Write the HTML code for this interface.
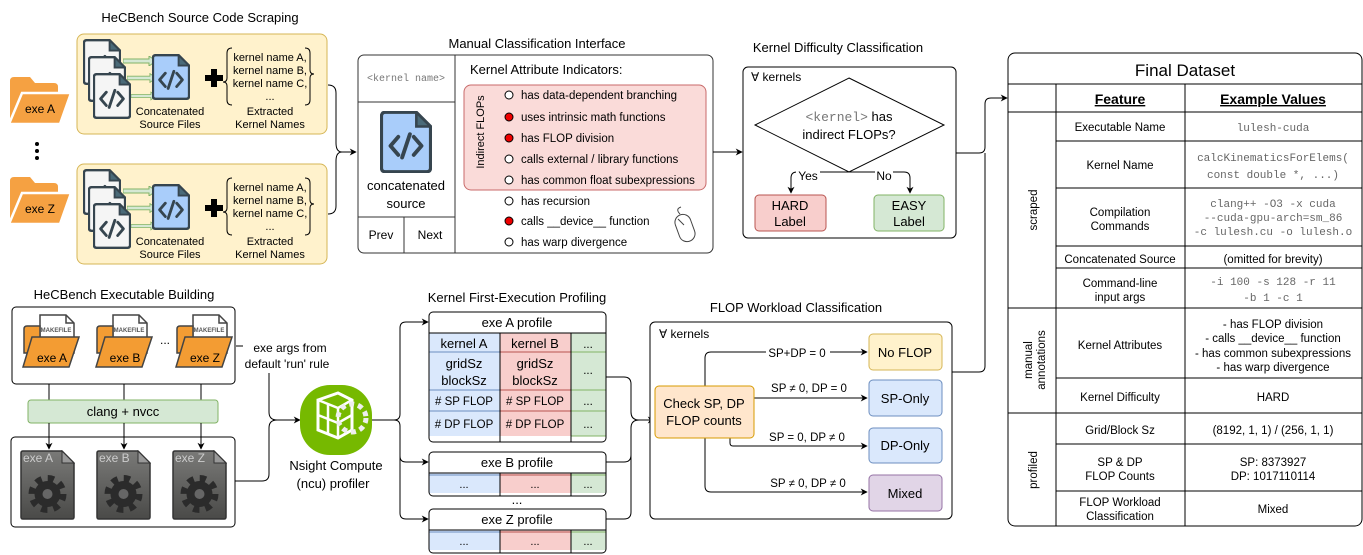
<!DOCTYPE html>
<html><head><meta charset="utf-8"><style>
html,body{margin:0;padding:0;background:#fff}
svg{display:block;font-family:"Liberation Sans",sans-serif}
.m{font-family:"Liberation Mono",monospace}
</style></head><body>
<svg width="1363" height="555" viewBox="0 0 1363 555" xmlns="http://www.w3.org/2000/svg">
<defs>
<marker id="ar" viewBox="0 0 10 10" refX="9" refY="5" markerWidth="7" markerHeight="7" orient="auto"><path d="M0,0 L10,5 L0,10 L3,5 Z" fill="#000"/></marker>
<linearGradient id="gg" x1="0" y1="0" x2="0" y2="1"><stop offset="0" stop-color="#7a7a78"/><stop offset="1" stop-color="#4a4a48"/></linearGradient>
<symbol id="docg" viewBox="0 0 40 48">
<path d="M4,1 H28 L39,12 V44 Q39,47 36,47 H4 Q1,47 1,44 V4 Q1,1 4,1 Z" fill="#f5f5f5" stroke="#36454f" stroke-width="2.5"/>
<path d="M28,1 V12 H39 Z" fill="#4a6a78" stroke="#36454f" stroke-width="2"/>
<path d="M14,20 L8,27 L14,34 M26,20 L32,27 L26,34 M23,18 L17,36" fill="none" stroke="#36454f" stroke-width="3" stroke-linecap="round" stroke-linejoin="round"/>
</symbol>
<symbol id="docb" viewBox="0 0 40 48">
<path d="M4,1 H28 L39,12 V44 Q39,47 36,47 H4 Q1,47 1,44 V4 Q1,1 4,1 Z" fill="#a9cdfa" stroke="#36454f" stroke-width="2.5"/>
<path d="M28,1 V12 H39 Z" fill="#4a6a78" stroke="#36454f" stroke-width="2"/>
<path d="M14,20 L8,27 L14,34 M26,20 L32,27 L26,34 M23,18 L17,36" fill="none" stroke="#36454f" stroke-width="3" stroke-linecap="round" stroke-linejoin="round"/>
</symbol>
<symbol id="garr" viewBox="0 0 34 10"><path d="M0,3 H26 V0 L33,5 L26,10 V7 H0 Z" fill="#d5e8d4" stroke="#82b366" stroke-width="1"/></symbol>
<symbol id="fold" viewBox="0 0 64 50">
<path d="M2,6 Q2,2 6,2 H22 L27,8 H46 Q50,8 50,12 V48 H2 Z" fill="#f5a142"/>
<path d="M14,18 H63 L52,49 H1 Z" fill="#f5a142" stroke="#fff" stroke-width="2.5"/>
</symbol>
<symbol id="mk" viewBox="0 0 58 56">
<path d="M18,2 H44 L52,10 V40 H18 Z" fill="#fff" stroke="#444" stroke-width="1.5"/>
<path d="M44,2 V10 H52" fill="none" stroke="#444" stroke-width="1.5"/>
<path d="M2,16 Q2,13 5,13 H18 V40 H2 Z" fill="#f39c33" stroke="#444" stroke-width="1.5"/>
<path d="M10,24 H57 L47,54 H1 Z" fill="#f39c33" stroke="#444" stroke-width="1.5"/>
<text x="34" y="19" font-size="6" font-weight="bold" text-anchor="middle" fill="#555" font-family="Liberation Sans">MAKEFILE</text>
</symbol>
<symbol id="gear" viewBox="0 0 55 70">
<path d="M3,1 H42 L54,13 V67 Q54,69 52,69 H3 Q1,69 1,67 V3 Q1,1 3,1 Z" fill="url(#gg)" stroke="#333" stroke-width="1.5"/>
<path d="M42,1 V13 H54 Z" fill="#999" stroke="#333"/>
<circle cx="27.5" cy="44" r="15" fill="none" stroke="#2b2b2b" stroke-width="8" stroke-dasharray="6 5.8"/>
<circle cx="27.5" cy="44" r="13" fill="#2b2b2b"/>
<circle cx="27.5" cy="44" r="5" fill="#666"/>
</symbol>
</defs>

<!-- ===== Source Code Scraping ===== -->
<text x="200" y="22" font-size="13" text-anchor="middle">HeCBench Source Code Scraping</text>
<g id="scr">
<rect x="77" y="34" width="250" height="100" rx="7" fill="#fff2cc" stroke="#d6b656"/>
<use href="#docg" x="83" y="39" width="38" height="46"/>
<use href="#docg" x="88" y="56" width="38" height="46"/>
<use href="#docg" x="93" y="73" width="38" height="46"/>
<use href="#garr" x="123" y="56" width="34" height="10"/>
<use href="#garr" x="127" y="73" width="30" height="10"/>
<use href="#garr" x="131" y="91" width="26" height="10"/>
<use href="#docb" x="152" y="54" width="38" height="46"/>
<path d="M205,75 h6 v-6 h6 v6 h6 v6 h-6 v6 h-6 v-6 h-6 Z" fill="#000"/>
<path d="M232,48 q-5,0 -5,5 v25 q0,4 -4,4 q4,0 4,4 v14 q0,5 5,5" fill="none" stroke="#000"/>
<path d="M305,48 q5,0 5,5 v17 q0,4 4,4 q-4,0 -4,4 v22 q0,5 -5,5" fill="none" stroke="#000"/>
<g font-size="11" text-anchor="middle"><text x="270" y="61">kernel name A,</text><text x="270" y="74">kernel name B,</text><text x="270" y="87">kernel name C,</text><text x="270" y="100">...</text>
<text x="170" y="115">Concatenated</text><text x="170" y="128">Source Files</text>
<text x="270" y="115">Extracted</text><text x="270" y="128">Kernel Names</text></g>
</g>
<use href="#scr" y="130"/>
<use href="#fold" x="8" y="75" width="64" height="50"/>
<text x="40" y="113" font-size="12" text-anchor="middle">exe A</text>
<use href="#fold" x="8" y="175" width="64" height="50"/>
<text x="40" y="213" font-size="12" text-anchor="middle">exe Z</text>
<circle cx="37" cy="144" r="2" fill="#000"/><circle cx="37" cy="151" r="2" fill="#000"/><circle cx="37" cy="158" r="2" fill="#000"/>
<path d="M328,85 q8,0 8,8 v50 q0,9 6,9 M328,214 q8,0 8,-8 v-45 q0,-9 6,-9 h14" fill="none" stroke="#000" marker-end="url(#ar)"/>

<!-- ===== Manual classification ===== -->
<text x="537" y="48" font-size="13" text-anchor="middle">Manual Classification Interface</text>
<rect x="358" y="55" width="355" height="198" rx="6" fill="#fff" stroke="#333"/>
<line x1="455" y1="55" x2="455" y2="253" stroke="#333"/>
<line x1="358" y1="102" x2="455" y2="102" stroke="#333"/>
<line x1="358" y1="217" x2="455" y2="217" stroke="#333"/>
<line x1="404" y1="217" x2="404" y2="253" stroke="#333"/>
<text x="406" y="81" font-size="10" class="m" text-anchor="middle" fill="#777">&lt;kernel name&gt;</text>
<use href="#docb" x="380" y="111" width="52" height="62"/>
<text x="406" y="190" font-size="13" text-anchor="middle">concatenated</text>
<text x="406" y="208" font-size="13" text-anchor="middle">source</text>
<text x="381" y="239" font-size="12" text-anchor="middle">Prev</text>
<text x="430" y="239" font-size="12" text-anchor="middle">Next</text>
<text x="470" y="74" font-size="13">Kernel Attribute Indicators:</text>
<rect x="464" y="85" width="242" height="105" rx="7" fill="#fadbd9" stroke="#c86a6a"/>
<text transform="translate(484,132) rotate(-90)" font-size="11" text-anchor="middle">Indirect FLOPs</text>
<g font-size="11.5">
<circle cx="509" cy="95" r="4" fill="#fff" stroke="#000"/><text x="521" y="99">has data-dependent branching</text>
<circle cx="509" cy="117" r="4" fill="#e00" stroke="#000"/><text x="521" y="121">uses intrinsic math functions</text>
<circle cx="509" cy="138" r="4" fill="#e00" stroke="#000"/><text x="521" y="142">has FLOP division</text>
<circle cx="509" cy="159" r="4" fill="#fff" stroke="#000"/><text x="521" y="163">calls external / library functions</text>
<circle cx="509" cy="180" r="4" fill="#fff" stroke="#000"/><text x="521" y="184">has common float subexpressions</text>
<circle cx="509" cy="201" r="4" fill="#fff" stroke="#000"/><text x="521" y="205">has recursion</text>
<circle cx="509" cy="221" r="4" fill="#e00" stroke="#000"/><text x="521" y="225">calls __device__ function</text>
<circle cx="509" cy="242" r="4" fill="#fff" stroke="#000"/><text x="521" y="246">has warp divergence</text>
</g>
<g fill="none" stroke="#444" stroke-width="1">
<rect x="677" y="214" width="16" height="28" rx="8" transform="rotate(-20 685 228)"/>
<path d="M678,219 L684,225 M681,207 q-6,2 -1,7"/>
</g>
<line x1="713" y1="152" x2="742" y2="152" stroke="#000" marker-end="url(#ar)"/>

<!-- ===== Kernel Difficulty ===== -->
<text x="838" y="52" font-size="13" text-anchor="middle">Kernel Difficulty Classification</text>
<rect x="743" y="67" width="213" height="171" rx="5" fill="#fff" stroke="#000"/>
<text x="751" y="81" font-size="12">∀ kernels</text>
<polygon points="849,78 944,125 849,172 755,125" fill="#fff" stroke="#000"/>
<text x="849" y="121" font-size="13" text-anchor="middle"><tspan class="m" fill="#777">&lt;kernel&gt;</tspan> has</text>
<text x="849" y="139" font-size="13" text-anchor="middle">indirect FLOPs?</text>
<path d="M849,172 H797 q-6,0 -6,6 V193" fill="none" stroke="#000" marker-end="url(#ar)"/>
<path d="M849,172 H904 q6,0 6,6 V193" fill="none" stroke="#000" marker-end="url(#ar)"/>
<rect x="796" y="169" width="24" height="14" fill="#fff"/><text x="808" y="180" font-size="12" text-anchor="middle">Yes</text>
<rect x="875" y="169" width="18" height="14" fill="#fff"/><text x="884" y="180" font-size="12" text-anchor="middle">No</text>
<rect x="755" y="195" width="71" height="36" rx="4" fill="#f8cecc" stroke="#b85450"/>
<text x="790" y="210" font-size="13" text-anchor="middle">HARD</text><text x="790" y="226" font-size="13" text-anchor="middle">Label</text>
<rect x="874" y="195" width="70" height="36" rx="4" fill="#d5e8d4" stroke="#82b366"/>
<text x="909" y="210" font-size="13" text-anchor="middle">EASY</text><text x="909" y="226" font-size="13" text-anchor="middle">Label</text>
<path d="M956,153 H979 q6,0 6,-6 V104 q0,-6 6,-6 H1007" fill="none" stroke="#000" marker-end="url(#ar)"/>
<path d="M952,372 H979 q6,0 6,-6 V153" fill="none" stroke="#000"/>

<!-- ===== Final Dataset ===== -->
<rect x="1008" y="53" width="354" height="473" rx="7" fill="#fff" stroke="#000"/>
<g stroke="#000">
<line x1="1008" y1="84" x2="1362" y2="84"/>
<line x1="1056" y1="84" x2="1056" y2="526"/>
<line x1="1185" y1="84" x2="1185" y2="526"/>
<line x1="1008" y1="112" x2="1362" y2="112"/>
<line x1="1056" y1="141" x2="1362" y2="141"/>
<line x1="1056" y1="188" x2="1362" y2="188"/>
<line x1="1056" y1="246" x2="1362" y2="246"/>
<line x1="1056" y1="268" x2="1362" y2="268"/>
<line x1="1008" y1="308" x2="1362" y2="308"/>
<line x1="1056" y1="378" x2="1362" y2="378"/>
<line x1="1008" y1="413" x2="1362" y2="413"/>
<line x1="1056" y1="444" x2="1362" y2="444"/>
<line x1="1056" y1="491" x2="1362" y2="491"/>
</g>
<text x="1185" y="76" font-size="17" text-anchor="middle">Final Dataset</text>
<text x="1120" y="104" font-size="14" font-weight="bold" text-anchor="middle" text-decoration="underline">Feature</text>
<text x="1273" y="104" font-size="14" font-weight="bold" text-anchor="middle" text-decoration="underline">Example Values</text>
<g font-size="11.5" text-anchor="middle">
<text transform="translate(1037,210) rotate(-90)">scraped</text>
<text transform="translate(1032,360) rotate(-90)">manual</text>
<text transform="translate(1045,360) rotate(-90)">annotations</text>
<text transform="translate(1037,470) rotate(-90)">profiled</text>
<text x="1120" y="131">Executable Name</text>
<text x="1120" y="169">Kernel Name</text>
<text x="1120" y="216">Compilation</text><text x="1120" y="230">Commands</text>
<text x="1120" y="263">Concatenated Source</text>
<text x="1120" y="287">Command-line</text><text x="1120" y="301">input args</text>
<text x="1120" y="349">Kernel Attributes</text>
<text x="1120" y="401">Kernel Difficulty</text>
<text x="1120" y="434">Grid/Block Sz</text>
<text x="1120" y="466">SP &amp; DP</text><text x="1120" y="480">FLOP Counts</text>
<text x="1120" y="506">FLOP Workload</text><text x="1120" y="520">Classification</text>
<text x="1273" y="263">(omitted for brevity)</text>
<text x="1273" y="328">- has FLOP division</text>
<text x="1273" y="342">- calls __device__ function</text>
<text x="1273" y="357">- has common subexpressions</text>
<text x="1273" y="371">- has warp divergence</text>
<text x="1273" y="401">HARD</text>
<text x="1273" y="434">(8192, 1, 1) / (256, 1, 1)</text>
<text x="1273" y="466">SP: 8373927</text><text x="1273" y="480">DP: 1017110114</text>
<text x="1273" y="513">Mixed</text>
</g>
<g font-size="11" class="m" text-anchor="middle" fill="#666">
<text x="1273" y="131">lulesh-cuda</text>
<text x="1273" y="161">calcKinematicsForElems(</text>
<text x="1273" y="178">const double *, ...)</text>
<text x="1273" y="207">clang++ -O3 -x cuda</text>
<text x="1273" y="221">--cuda-gpu-arch=sm_86</text>
<text x="1273" y="235">-c lulesh.cu -o lulesh.o</text>
<text x="1273" y="285">-i 100 -s 128 -r 11</text>
<text x="1273" y="301">-b 1 -c 1</text>
</g>

<!-- ===== Executable Building ===== -->
<text x="124" y="299" font-size="13" text-anchor="middle">HeCBench Executable Building</text>
<rect x="12" y="307" width="223" height="77" rx="4" fill="#fff" stroke="#000"/>
<use href="#mk" x="22" y="313" width="58" height="56"/>
<use href="#mk" x="95" y="313" width="58" height="56"/>
<use href="#mk" x="175" y="313" width="58" height="56"/>
<g font-size="12" text-anchor="middle"><text x="52" y="362">exe A</text><text x="125" y="362">exe B</text><text x="205" y="362">exe Z</text></g>
<text x="165" y="344" font-size="12" text-anchor="middle">...</text>
<g stroke="#000"><line x1="49" y1="384" x2="49" y2="400"/><line x1="124" y1="384" x2="124" y2="400"/><line x1="201" y1="384" x2="201" y2="400"/></g>
<rect x="28" y="400" width="190" height="23" rx="3" fill="#d5e8d4" stroke="#82b366"/>
<text x="123" y="416" font-size="13" text-anchor="middle">clang + nvcc</text>
<g stroke="#000" marker-end="url(#ar)"><line x1="49" y1="423" x2="49" y2="449"/><line x1="124" y1="423" x2="124" y2="449"/><line x1="201" y1="423" x2="201" y2="449"/></g>
<rect x="11" y="437" width="224" height="90" rx="4" fill="none" stroke="#000"/>
<use href="#gear" x="20" y="450" width="55" height="70"/>
<use href="#gear" x="96" y="450" width="55" height="70"/>
<use href="#gear" x="172" y="450" width="55" height="70"/>
<g font-size="12" fill="#ccc"><text x="23" y="462">exe A</text><text x="99" y="462">exe B</text><text x="175" y="462">exe Z</text></g>
<line x1="236" y1="346" x2="243" y2="346" stroke="#000"/>
<text x="290" y="352" font-size="12" text-anchor="middle">exe args from</text>
<text x="287" y="368" font-size="12" text-anchor="middle">default 'run' rule</text>
<path d="M269,373 V412 q0,8 8,8 H300" fill="none" stroke="#000" marker-end="url(#ar)"/>
<path d="M235,481 H262 q7,0 7,-7 V428 q0,-8 8,-8" fill="none" stroke="#000"/>
<!-- Nsight -->
<rect x="300" y="385" width="72" height="70" rx="30" fill="#76b900"/>
<path d="M318,400 L338,393 L352,400 L352,430 L338,438 L318,430 Z" fill="none" stroke="#fff" stroke-width="3"/>
<path d="M318,400 L338,408 L352,400 M338,408 V438 M318,415 L338,423 L352,415 M328,404 V434" fill="none" stroke="#fff" stroke-width="2.5"/>
<circle cx="352" cy="418" r="14" fill="none" stroke="#eee" stroke-width="5" stroke-dasharray="5 4"/>
<text x="336" y="470" font-size="13" text-anchor="middle">Nsight Compute</text>
<text x="333" y="488" font-size="13" text-anchor="middle">(ncu) profiler</text>
<path d="M372,420 H394 q6,0 6,-6 V328 q0,-6 6,-6 H428" fill="none" stroke="#000" marker-end="url(#ar)"/>
<path d="M394,420 q6,0 6,6 V456 q0,6 6,6 H428" fill="none" stroke="#000" marker-end="url(#ar)"/>
<path d="M400,456 V513 q0,6 6,6 H428" fill="none" stroke="#000" marker-end="url(#ar)"/>

<!-- ===== Profiling ===== -->
<text x="517" y="302" font-size="13" text-anchor="middle">Kernel First-Execution Profiling</text>
<rect x="429" y="333" width="71" height="103" fill="#dae8fc"/>
<rect x="500" y="333" width="71" height="103" fill="#f8cecc"/>
<rect x="571" y="333" width="35" height="103" fill="#d5e8d4"/>
<g stroke="#6c8ebf"><line x1="429" y1="352" x2="500" y2="352"/><line x1="429" y1="390" x2="500" y2="390"/><line x1="429" y1="411" x2="500" y2="411"/></g>
<g stroke="#b85450"><line x1="500" y1="352" x2="571" y2="352"/><line x1="500" y1="390" x2="571" y2="390"/><line x1="500" y1="411" x2="571" y2="411"/></g>
<g stroke="#82b366"><line x1="571" y1="352" x2="606" y2="352"/><line x1="571" y1="390" x2="606" y2="390"/><line x1="571" y1="411" x2="606" y2="411"/><line x1="571" y1="436" x2="606" y2="436"/></g>
<rect x="429" y="312" width="177" height="130" rx="4" fill="none" stroke="#000"/>
<line x1="429" y1="333" x2="606" y2="333" stroke="#000"/>
<line x1="500" y1="333" x2="500" y2="442" stroke="#000"/>
<line x1="571" y1="333" x2="571" y2="442" stroke="#000"/>
<g text-anchor="middle" font-size="13">
<text x="517" y="327">exe A profile</text>
<text x="464" y="348">kernel A</text><text x="535" y="348">kernel B</text>
<text x="464" y="368">gridSz</text><text x="464" y="385">blockSz</text>
<text x="535" y="368">gridSz</text><text x="535" y="385">blockSz</text>
</g>
<g text-anchor="middle" font-size="11.5">
<text x="464" y="405"># SP FLOP</text><text x="535" y="405"># SP FLOP</text>
<text x="464" y="428"># DP FLOP</text><text x="535" y="428"># DP FLOP</text>
<text x="588" y="348">...</text><text x="588" y="374">...</text><text x="588" y="405">...</text><text x="588" y="428">...</text>
</g>
<g id="pb">
<rect x="429" y="473" width="71" height="20" fill="#dae8fc"/>
<rect x="500" y="473" width="71" height="20" fill="#f8cecc"/>
<rect x="571" y="473" width="35" height="20" fill="#d5e8d4"/>
<line x1="429" y1="475" x2="500" y2="475" stroke="#6c8ebf"/><line x1="500" y1="475" x2="571" y2="475" stroke="#b85450"/><line x1="571" y1="475" x2="606" y2="475" stroke="#82b366"/>
<rect x="429" y="452" width="177" height="44" rx="4" fill="none" stroke="#000"/>
<line x1="429" y1="473" x2="606" y2="473" stroke="#000"/>
<line x1="500" y1="473" x2="500" y2="496" stroke="#000"/><line x1="571" y1="473" x2="571" y2="496" stroke="#000"/>
<g text-anchor="middle" font-size="11"><text x="464" y="488">...</text><text x="535" y="488">...</text><text x="588" y="488">...</text></g>
</g>
<use href="#pb" y="57"/>
<text x="517" y="467" font-size="13" text-anchor="middle">exe B profile</text>
<text x="517" y="524" font-size="13" text-anchor="middle">exe Z profile</text>
<text x="517" y="504" font-size="13" text-anchor="middle">...</text>
<path d="M606,377 H624 q7,0 7,7 V412 q0,8 8,8 H654" fill="none" stroke="#000" marker-end="url(#ar)"/>
<path d="M606,462 H624 q7,0 7,-7 V428 q0,-8 8,-8" fill="none" stroke="#000"/>
<path d="M606,519 H624 q7,0 7,-7 V455" fill="none" stroke="#000"/>

<!-- ===== FLOP workload ===== -->
<text x="796" y="312" font-size="13" text-anchor="middle">FLOP Workload Classification</text>
<rect x="650" y="322" width="302" height="197" rx="5" fill="#fff" stroke="#000"/>
<text x="659" y="338" font-size="12">∀ kernels</text>
<path d="M705,386 V358 q0,-6 6,-6 H867" fill="none" stroke="#000" marker-end="url(#ar)"/>
<line x1="754" y1="398" x2="867" y2="398" stroke="#000" marker-end="url(#ar)"/>
<path d="M730,438 V443 q0,3 3,3 H867" fill="none" stroke="#000" marker-end="url(#ar)"/>
<path d="M705,438 V486 q0,6 6,6 H867" fill="none" stroke="#000" marker-end="url(#ar)"/>
<rect x="766" y="346" width="64" height="13" fill="#fff"/>
<g font-size="11.5" text-anchor="middle"><text x="797" y="357">SP+DP = 0</text>
<text x="809" y="392">SP ≠ 0, DP = 0</text><text x="807" y="441">SP = 0, DP ≠ 0</text><text x="808" y="487">SP ≠ 0, DP ≠ 0</text></g>
<rect x="655" y="386" width="99" height="52" rx="4" fill="#ffe6cc" stroke="#d79b00"/>
<text x="704" y="408" font-size="13" text-anchor="middle">Check SP, DP</text>
<text x="704" y="425" font-size="13" text-anchor="middle">FLOP counts</text>
<rect x="869" y="334" width="73" height="36" rx="4" fill="#fff2cc" stroke="#d6b656"/>
<rect x="869" y="380" width="73" height="36" rx="4" fill="#dae8fc" stroke="#6c8ebf"/>
<rect x="869" y="428" width="73" height="35" rx="4" fill="#dae8fc" stroke="#6c8ebf"/>
<rect x="869" y="475" width="73" height="36" rx="4" fill="#e1d5e7" stroke="#9673a6"/>
<g font-size="13" text-anchor="middle"><text x="905" y="357">No FLOP</text><text x="905" y="403">SP-Only</text><text x="905" y="450">DP-Only</text><text x="905" y="498">Mixed</text></g>
</svg>
</body></html>
